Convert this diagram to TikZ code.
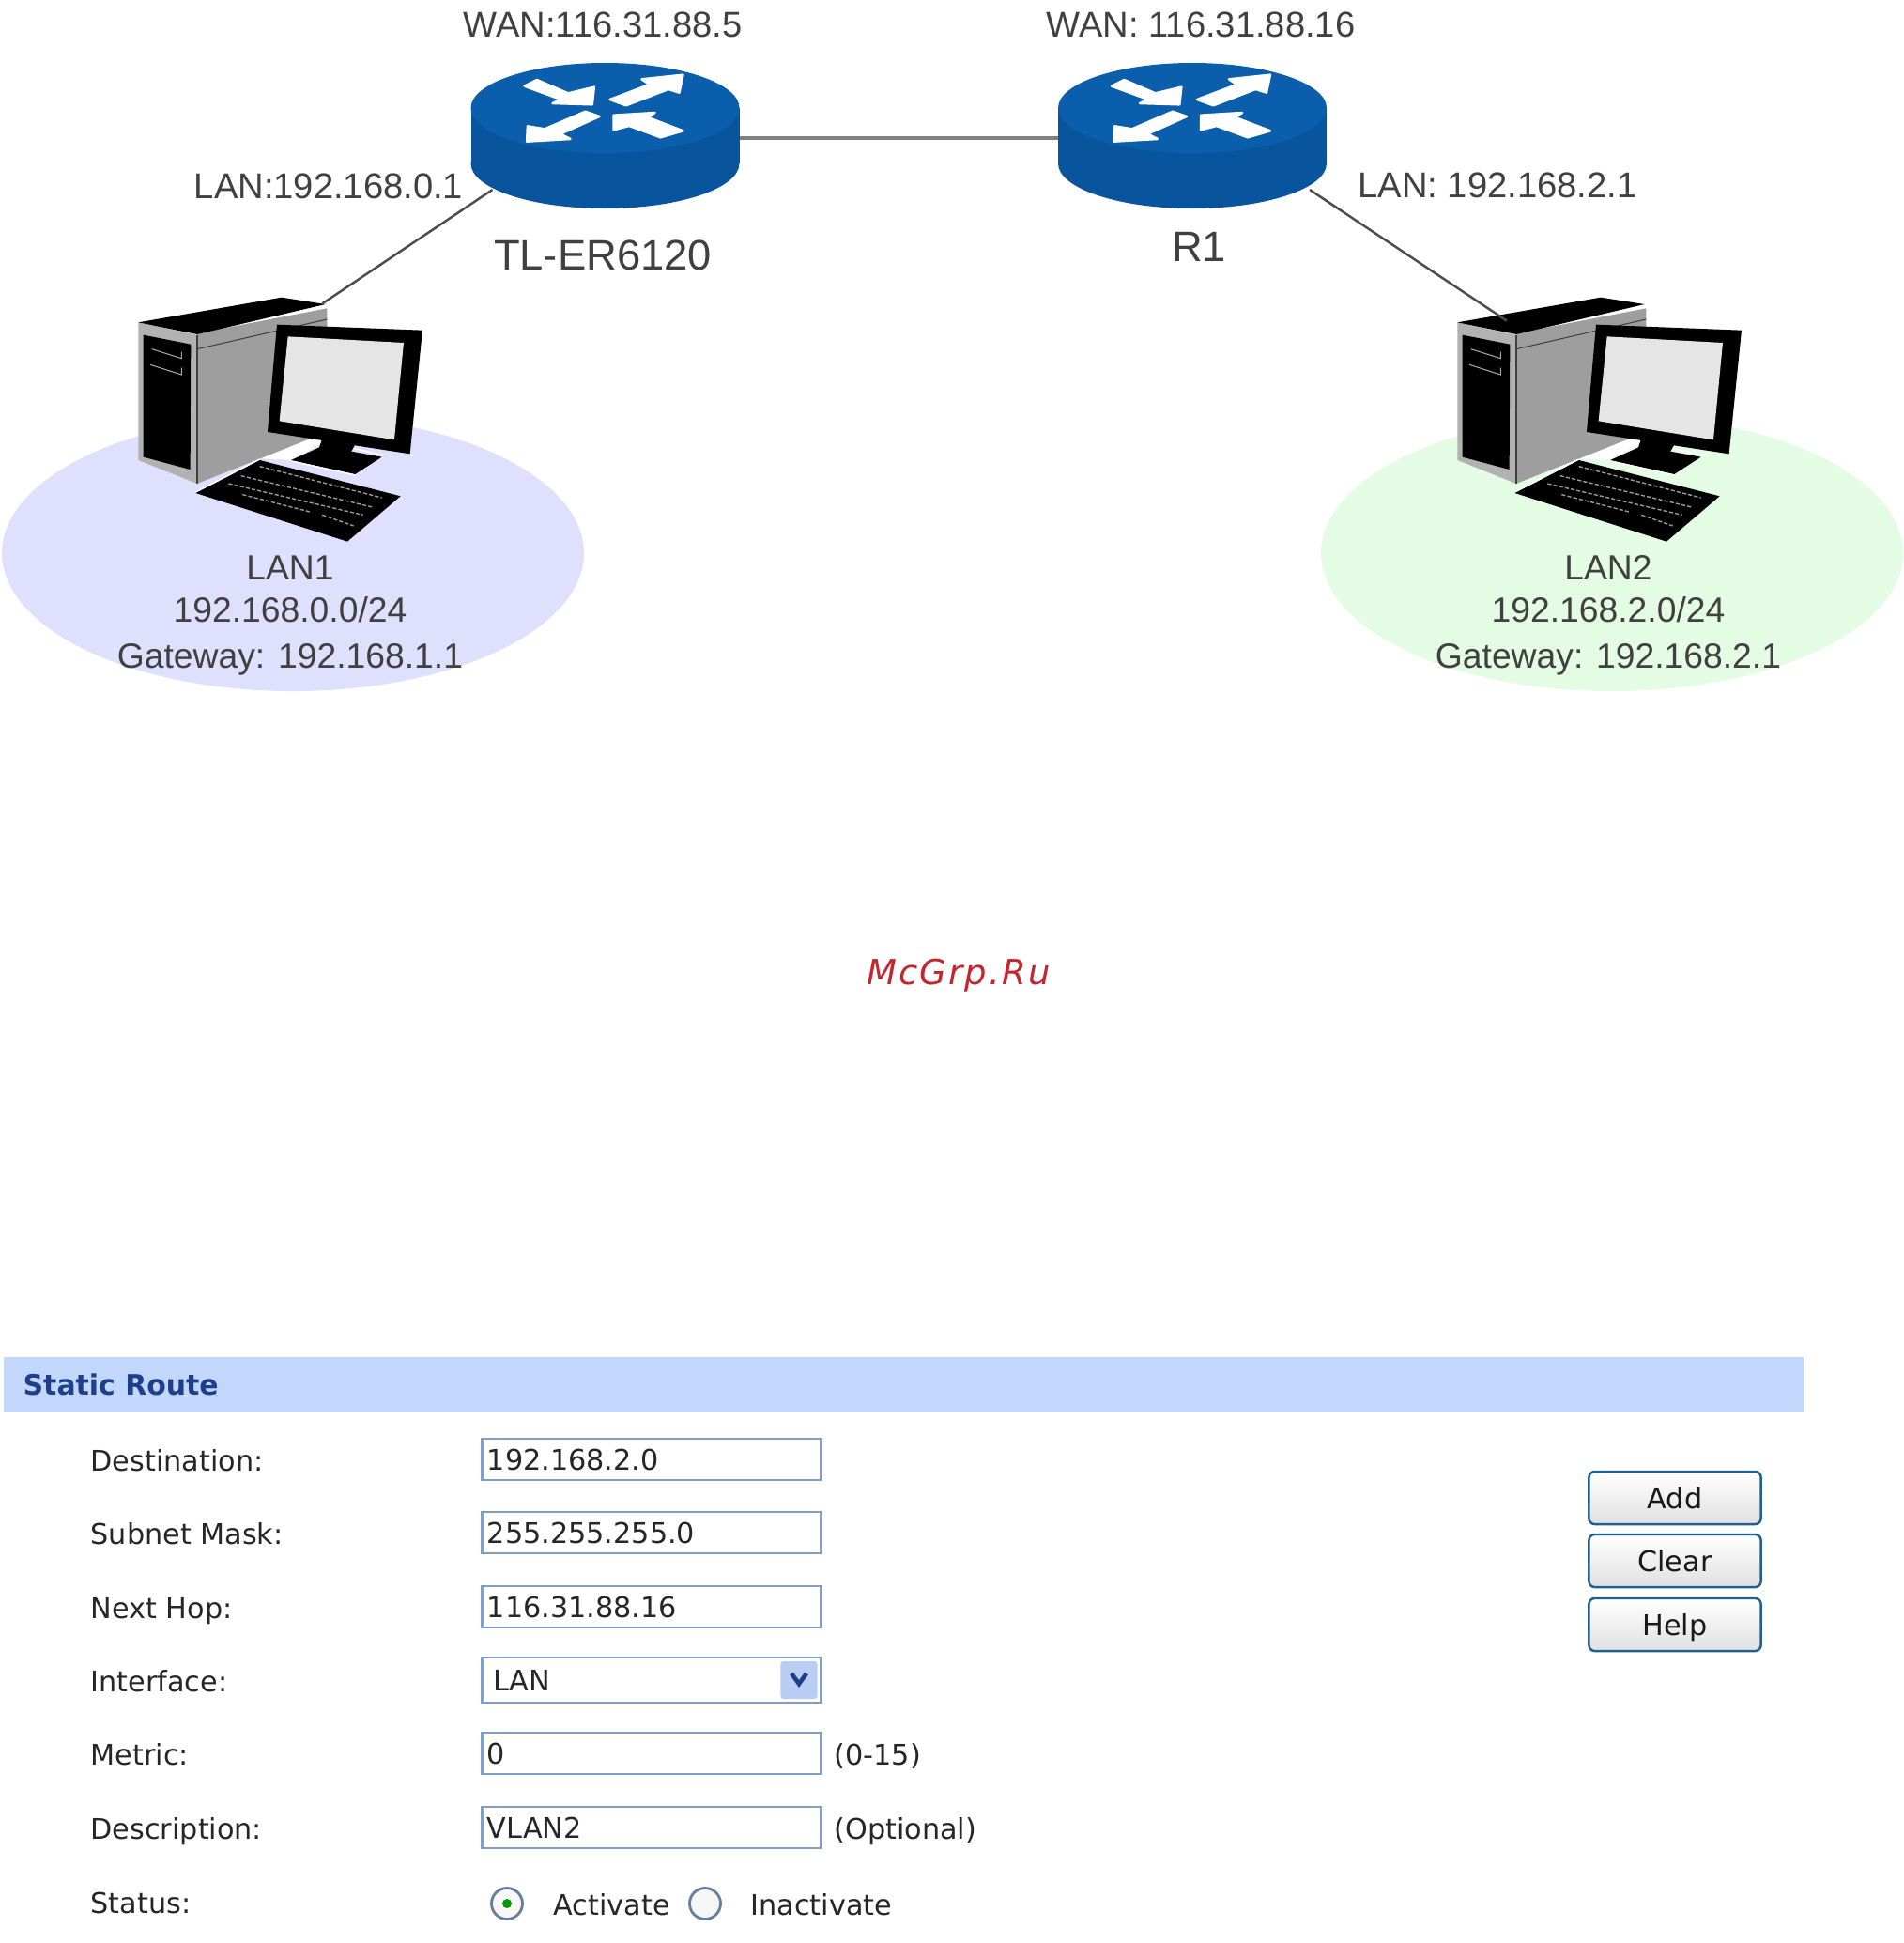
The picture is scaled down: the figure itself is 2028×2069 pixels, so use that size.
\documentclass[tikz,border=0pt]{standalone}
\usepackage{fontspec}
\setmainfont{Liberation Sans}
\newfontfamily\formfont{DejaVu Sans}
\newfontfamily\markfont[LetterSpace=6]{DejaVu Sans}
\usepackage{tikz}
\usetikzlibrary{positioning}
\definecolor{routertop}{HTML}{0A5EAC}
\definecolor{routerside}{HTML}{08559E}
\definecolor{laxblue}{HTML}{DFDFFE}
\definecolor{laxgreen}{HTML}{E4FBE4}
\definecolor{bandblue}{HTML}{C3D7FD}
\definecolor{fieldedge}{HTML}{7F9FC6}
\definecolor{btnedge}{HTML}{1F5F92}
\definecolor{titleblue}{HTML}{1E3F8B}
\definecolor{dropblue}{HTML}{B9CDF5}
\definecolor{markred}{HTML}{C4262E}
\tikzset{
	lanlink/.style={draw=black!70, line width=.7pt},
	wanlink/.style={draw=black!50, line width=1.2pt},
	netlabel/.style={text=black!75, font=\fontsize{10.85}{12}\selectfont, inner sep=0pt, text height=9.9pt, text depth=2.2pt},
	lanlabel/.style={text=black!75, font=\fontsize{10.6}{13}\selectfont, inner sep=0pt, text height=9.9pt, text depth=2.2pt},
	devlabel/.style={text=black!75, font=\fontsize{12.9}{15}\selectfont, inner sep=0pt},
	formlabel/.style={anchor=west, text=black!85, font=\formfont\fontsize{8.6}{10}\selectfont, inner sep=0pt, text height=8.2pt, text depth=1.8pt},
	fieldbox/.style={anchor=west, draw=fieldedge, fill=white, line width=.8pt, text width=3.5cm, inner xsep=.055cm, inner ysep=0pt,
		minimum height=.44cm, align=left, text=black!85, font=\formfont\fontsize{8.6}{10}\selectfont, text height=8.2pt, text depth=1.8pt},
	formbtn/.style={draw=btnedge, line width=.7pt, rounded corners=.06cm, top color=white, bottom color=black!12,
		minimum width=1.83cm, minimum height=.56cm, inner sep=0pt, text=black!90, font=\formfont\fontsize{8.6}{10}\selectfont,
		text height=8.2pt, text depth=1.8pt},
	radiobtn/.style={circle, draw=fieldedge!80!black, line width=.8pt, fill=black!3, minimum size=.33cm, inner sep=0pt},
	arrowmark/.style={fill=white, draw=white, line width=.7pt, line join=round},
	keyrow/.style={draw=black!40, line width=.4pt, dash pattern=on 1.2pt off .6pt},
	router/.pic={
		\fill[routerside] (0,59) ellipse (143 and 48);
		\fill[routerside] (-143,0) rectangle (143,59);
		\fill[routertop] (0,0) ellipse (143 and 48);
		\begin{scope}[scale=.3333, shift={(-463,-195)}]
			\path[arrowmark] (205,125) -- (245,105) -- (345,148) -- (428,128) -- (422,184) -- (295,180) -- (322,168) -- cycle;
			\path[arrowmark] (478,168) -- (605,120) -- (580,103) -- (712,89) -- (700,146) -- (665,135) -- (530,187) -- cycle;
			\path[arrowmark] (215,253) -- (213,302) -- (352,294) -- (320,278) -- (445,222) -- (400,206) -- (270,262) -- cycle;
			\path[arrowmark] (490,218) -- (622,210) -- (600,225) -- (712,268) -- (640,289) -- (540,252) -- (490,265) -- cycle;
		\end{scope}
		\coordinate (-wanleft) at (-143,32);
		\coordinate (-wanright) at (143,32);
		\coordinate (-lanleft) at (-120,87);
		\coordinate (-lanright) at (125,87);
	},
	desktop/.pic={
		\begin{scope}[scale=.3333]
			\fill[white] (445,565) -- (550,500) -- (650,510) -- (540,570) -- cycle;
			% tower
			\fill[black!38] (240,165) -- (655,85) -- (655,480) -- (240,645) -- cycle;
			\fill[black!30] (52,130) -- (240,170) -- (240,645) -- (52,570) -- cycle;
			\fill[black] (52,130) -- (510,50) -- (650,72) -- (240,168) -- cycle;
			\fill[black] (68,170) -- (220,200) -- (218,600) -- (68,560) -- cycle;
			\draw[black!35, line width=.3pt] (95,215) -- (190,245) -- (190,225);
			\draw[black!35, line width=.3pt] (90,265) -- (190,297) -- (190,275);
			\draw[black!75, line width=.3pt] (240,215) -- (655,120);
			\draw[black!75, line width=.3pt] (240,170) -- (240,645);
			% monitor
			\fill[black] (540,570) -- (640,525) -- (830,560) -- (745,615) -- cycle;
			\draw[white, line width=.4pt] (540,573) -- (745,618);
			\draw[white, line width=.4pt] (728,530) -- (830,553);
			\fill[black] (640,500) -- (745,520) -- (720,565) -- (620,560) -- cycle;
			\fill[black] (495,137) -- (960,155) -- (920,550) -- (465,480) -- cycle;
			\fill[black!10] (530,175) -- (900,195) -- (870,505) -- (503,445) -- cycle;
			% keyboard
			\fill[black] (235,675) -- (440,570) -- (890,685) -- (720,830) -- cycle;
			\draw[white, line width=.4pt] (235,672) -- (440,567);
			\path[keyrow] (440,590) -- (830,690);
			\path[keyrow] (380,620) -- (800,720);
			\path[keyrow] (340,645) -- (770,745);
			\path[keyrow] (385,680) -- (600,735);
			\path[keyrow] (640,745) -- (740,780);
			\coordinate (-top) at (640,70);
			\coordinate (-lid) at (210,125);
		\end{scope}
	},
}
\begin{document}
\begin{tikzpicture}[x=.01cm, y=-.01cm]
	\useasboundingbox (0,0) rectangle (2028,2069);
	% network
	\fill[laxblue] (312,589) ellipse (310 and 147);
	\fill[laxgreen] (1717,589) ellipse (310 and 147);
	\pic (r1) at (644.5,115) {router};
	\pic (r2) at (1270,115) {router};
	\pic (pc1) at (130,300) {desktop};
	\pic (pc2) at (1535,300) {desktop};
	\draw[wanlink] (r1-wanright) -- (r2-wanleft);
	\draw[lanlink] (r1-lanleft) -- (pc1-top);
	\draw[lanlink] (r2-lanright) -- (pc2-lid);
	\node[netlabel] (wan1) at (642,26) {WAN:116.31.88.5};
	\node[netlabel] (wan2) at (1279,26) {WAN: 116.31.88.16};
	\node[netlabel] (lan1ip) at (350,198) {LAN:192.168.0.1};
	\node[netlabel] (lan2ip) at (1595,197) {LAN: 192.168.2.1};
	\node[devlabel] (r1name) at (642,272) {TL-ER6120};
	\node[devlabel] (r2name) at (1277,263) {R1};
	\node[lanlabel] (lan1a) at (309,604) {LAN1};
	\node[lanlabel] (lan1b) at (309,649) {192.168.0.0/24};
	\node[lanlabel] (lan1c) at (309,698) {Gateway: 192.168.1.1};
	\node[lanlabel] (lan2a) at (1713,604) {LAN2};
	\node[lanlabel] (lan2b) at (1713,649) {192.168.2.0/24};
	\node[lanlabel] (lan2c) at (1713,698) {Gateway: 192.168.2.1};
	\node[text=markred, font=\markfont\itshape\fontsize{10.5}{12}\selectfont, inner sep=0pt] (mark) at (1021,1039) {McGrp.Ru};
	% form
	\fill[bandblue] (4,1445) rectangle (1921,1504);
	\node[anchor=west, inner sep=0pt, text=titleblue, font=\formfont\bfseries\fontsize{8.5}{10}\selectfont] (title) at (24,1474) {Static Route};
	\node[formlabel] (dest) at (96,1555) {Destination:};
	\node[formlabel] (mask) at (96,1633) {Subnet Mask:};
	\node[formlabel] (hop) at (96,1712) {Next Hop:};
	\node[formlabel] (iface) at (96,1790) {Interface:};
	\node[formlabel] (metric) at (96,1868) {Metric:};
	\node[formlabel] (descr) at (96,1947) {Description:};
	\node[formlabel] (status) at (96,2026) {Status:};
	\node[fieldbox] (destbox) at (512,1554) {192.168.2.0};
	\node[fieldbox] (maskbox) at (512,1632) {255.255.255.0};
	\node[fieldbox] (hopbox) at (512,1711) {116.31.88.16};
	\node[fieldbox, minimum height=.48cm, inner xsep=.12cm, text width=3.37cm] (ifacebox) at (512,1789) {LAN};
	\node[fieldbox] (metricbox) at (512,1867) {0};
	\node[fieldbox] (descrbox) at (512,1946) {VLAN2};
	\node[fill=dropblue, rounded corners=.03cm, minimum width=.39cm, minimum height=.4cm, inner sep=0pt] (drop) at (851,1789) {};
	\draw[titleblue, line width=1.3pt] (843,1782) -- (851,1793) -- (859,1782);
	\node[formlabel] (metrichint) at (888,1868) {(0-15)};
	\node[formlabel] (descrhint) at (888,1947) {(Optional)};
	\node[radiobtn] (activeradio) at (540,2027) {};
	\fill[green!60!black] (activeradio) circle (5);
	\node[formlabel] (activetext) at (589,2028) {Activate};
	\node[radiobtn] (inactiveradio) at (751,2027) {};
	\node[formlabel] (inactivetext) at (799,2028) {Inactivate};
	\node[formbtn] (addbtn) at (1784,1595) {Add};
	\node[formbtn] (clearbtn) at (1784,1662) {Clear};
	\node[formbtn] (helpbtn) at (1784,1730) {Help};
\end{tikzpicture}
\end{document}
